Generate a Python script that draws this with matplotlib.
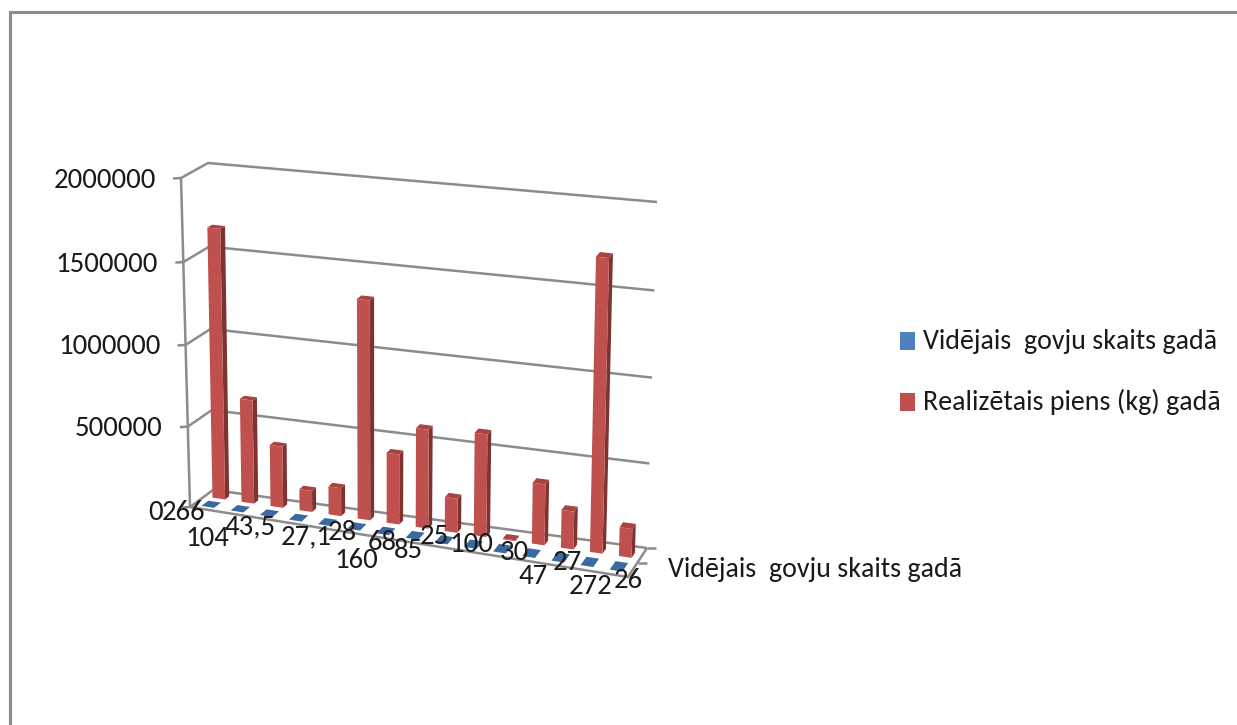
import numpy as np
import matplotlib
matplotlib.use('Agg')
import matplotlib.pyplot as plt
from matplotlib.patches import Polygon, Rectangle

# values
cat_labels = ['266','104','43,5','27,1','28','160','68','85','25','100','30','47','27','272','26']
cows = [266,104,43.5,27.1,28,160,68,85,25,100,30,47,27,272,26]
milk = [1655000,638000,378000,130000,172000,1326000,426000,598000,206000,616000,5000,364000,226000,1720000,171000]
y_ticks = [0,500000,1000000,1500000,2000000]
series_names = ['Vidējais  govju skaits gadā','Realizētais piens (kg) gadā']

# where the category labels sit (pixels), staggered like excel does it
label_x = [184,207,250,306,342,356,382,408,434,471,514,533,567,591,628]
label_y = [513,538,527,537,533,560,542,551,536,544,552,577,562,587,581]

plt.rcParams['font.family'] = ['Carlito','Liberation Sans','DejaVu Sans']
FS = 20.7
FS_NAMES = 20.2

GREY = '#8c8c8c'
RED, RED_SIDE, RED_TOP = '#c0504d', '#7c3331', '#a8433f'
BLUE, BLUE_DARK = '#4f81bd', '#3a6a9f'
TXT = '#1a1a1a'

# corners of the fake 3d box in pixels: [depth][height][left/right]
corners = np.array([
    [[(190,507),(628,577)],[(181,178),(635,229)]],   # front
    [[(213,490),(647,548)],[(208,163),(657,202)]],   # back
],dtype=float)

def proj(u,v,z):
    # u along categories, v fraction of the value axis, z 0 front 1 back
    v = 0.97*v + 0.03*v*v
    c = corners
    lo = (1-z)*((1-u)*c[0,0,0]+u*c[0,0,1]) + z*((1-u)*c[1,0,0]+u*c[1,0,1])
    hi = (1-z)*((1-u)*c[0,1,0]+u*c[0,1,1]) + z*((1-u)*c[1,1,0]+u*c[1,1,1])
    return lo + v*(hi-lo)

fig = plt.figure(figsize=(12.37,7.25),dpi=100)
ax = fig.add_axes([0,0,1,1])
ax.set_xlim(0,1237)
ax.set_ylim(725,0)
ax.axis('off')

# outer frame, only top and left are in the crop
ax.plot([1237,9.5,9.5],[11.5,11.5,725],color=GREY,lw=2.2,solid_joinstyle='miter')

ymax = y_ticks[-1]
line_kw = dict(color=GREY,lw=1.8,solid_capstyle='butt',zorder=1)
for t in y_ticks:
    v = t/ymax
    a,b,c = proj(0,v,0),proj(0,v,1),proj(1,v,1)
    ax.plot([a[0]-8,a[0],b[0],c[0]],[a[1]+0.5,a[1],b[1],c[1]],**line_kw)
    if t>0:
        ax.text(a[0]-25,a[1]+2,str(t),ha='right',va='center',fontsize=FS,color=TXT,zorder=8)
ax.text(163,512,'0',ha='right',va='center',fontsize=FS,color=TXT,zorder=8)

# axis edges and floor
a,b = proj(0,0,0),proj(0,1,0)
ax.plot([a[0],b[0]],[a[1],b[1]],**line_kw)
fl = [proj(0,0,0),proj(1,0,0),proj(1,0,1)]
ax.plot([p[0] for p in fl],[p[1] for p in fl],**line_kw)
# depth ticks on the right end
for z in [0.5,1.0]:
    p = proj(1,0,z)
    ax.plot([p[0],p[0]+9],[p[1],p[1]],**line_kw)

n = len(milk)
def box(i,val,z0,z1,face,side,top,zo):
    u0 = (i+0.5)/n-0.0145
    u1 = (i+0.5)/n+0.0145
    v = val/ymax
    f = [proj(u0,0,z0),proj(u1,0,z0),proj(u1,v,z0),proj(u0,v,z0)]
    s = [proj(u1,0,z0),proj(u1,0,z1),proj(u1,v,z1),proj(u1,v,z0)]
    t = [proj(u0,v,z0),proj(u1,v,z0),proj(u1,v,z1),proj(u0,v,z1)]
    ax.add_patch(Polygon(s,closed=True,fc=side,ec='none',zorder=zo))
    ax.add_patch(Polygon(t,closed=True,fc=top,ec='none',zorder=zo))
    ax.add_patch(Polygon(f,closed=True,fc=face,ec='none',zorder=zo+0.1))

for i in range(n):
    box(i,milk[i],0.62,0.80,RED,RED_SIDE,RED_TOP,3)
    box(i,cows[i],0.14,0.44,BLUE,BLUE_DARK,BLUE_DARK,2)

for s,x,y in zip(cat_labels,label_x,label_y):
    ax.text(x,y,s,ha='center',va='center',fontsize=FS,color=TXT,zorder=8)

ax.text(668,570,series_names[0],ha='left',va='center',fontsize=FS_NAMES,color=TXT)

# legend
for y,col,name in zip([341,402],[BLUE,RED],series_names):
    ax.add_patch(Rectangle((900,y-9),15,18,fc=col,ec='none'))
    ax.text(923,y,name,ha='left',va='center',fontsize=FS_NAMES,color=TXT)

fig.savefig('out.png',dpi=100)
